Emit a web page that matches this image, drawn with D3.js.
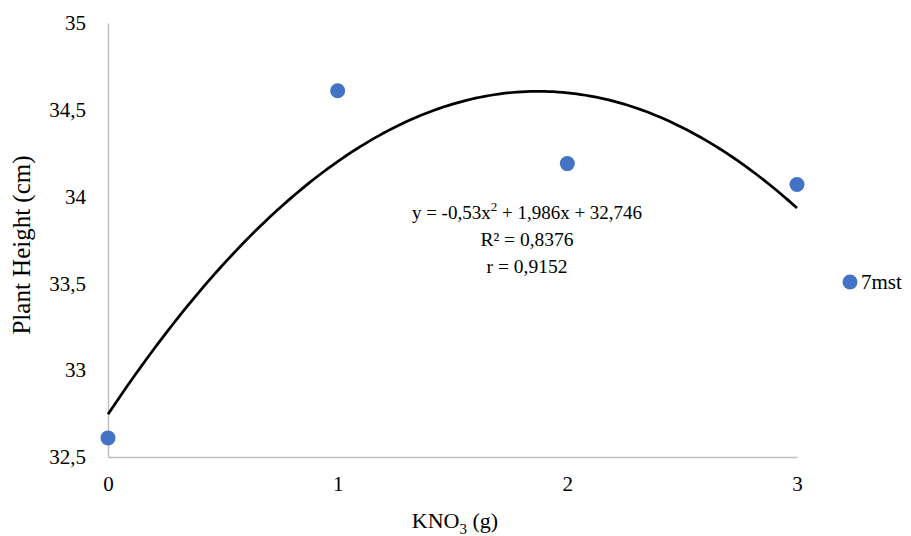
<!DOCTYPE html>
<html>
<head>
<meta charset="utf-8">
<script src="https://cdn.jsdelivr.net/npm/d3@7"></script>
<style>
  body { margin: 0; background: #fff; }
  svg text { font-family: "Liberation Serif", "Times New Roman", serif !important; fill: #000; }
</style>
</head>
<body>
<svg id="chart"></svg>
<script>
// Donnees
const kno3 = [0, 1, 2, 3];
const hauteur = [32.61, 34.61, 34.19, 34.07];
const serieNom = "7mst";

// Coefficients de la courbe de tendance (a x^2 + b x + c)
const coefs = [-0.53, 1.986, 32.746];
const equationLignes = ["R² = 0,8376", "r = 0,9152"];

const yTicks = [32.5, 33, 33.5, 34, 34.5, 35];
const xTicks = [0, 1, 2, 3];

const width = 911;
const height = 536;
const margin = {top: 23, right: 114, bottom: 79, left: 108};

const svg = d3.select("#chart")
  .attr("width", width)
  .attr("height", height);

const x = d3.scaleLinear()
  .domain([0, 3])
  .range([margin.left, width - margin.right]);

const y = d3.scaleLinear()
  .domain([32.5, 35])
  .range([height - margin.bottom, margin.top]);

const fmt = d => String(d).replace(".", ",");

// Axe Y
const yAxis = svg.append("g")
  .attr("transform", `translate(${margin.left},0)`)
  .call(d3.axisLeft(y).tickValues(yTicks).tickSize(0).tickPadding(22).tickFormat(fmt));
yAxis.attr("font-size", null).attr("font-family", null);
yAxis.select(".domain").attr("stroke", "#bfbfbf").attr("stroke-width", 1.5);
yAxis.selectAll("text").style("font-size", "21px");

// Axe X
const xAxis = svg.append("g")
  .attr("transform", `translate(0,${height - margin.bottom})`)
  .call(d3.axisBottom(x).tickValues(xTicks).tickSize(0).tickPadding(19).tickFormat(fmt));
xAxis.attr("font-size", null).attr("font-family", null);
xAxis.select(".domain").attr("stroke", "#bfbfbf").attr("stroke-width", 1.5);
xAxis.selectAll("text").style("font-size", "21px");

// Courbe de tendance polynomiale
const courbe = d3.range(0, 3.0001, 0.02).map(v => [v, coefs[0] * v * v + coefs[1] * v + coefs[2]]);
svg.append("path")
  .datum(courbe)
  .attr("fill", "none")
  .attr("stroke", "#000")
  .attr("stroke-width", 2.75)
  .attr("d", d3.line().x(d => x(d[0])).y(d => y(d[1])));

// Points
svg.selectAll(".point")
  .data(kno3.map((k, i) => ({k: k, h: hauteur[i]})))
  .enter()
  .append("circle")
  .attr("class", "point")
  .attr("cx", d => x(d.k))
  .attr("cy", d => y(d.h))
  .attr("r", 7.5)
  .attr("fill", "#4472c4");

// Equation
const eq = svg.append("text")
  .attr("x", 527)
  .attr("y", 219)
  .attr("text-anchor", "middle")
  .style("font-size", "19px");
eq.append("tspan").text("y = " + fmt(coefs[0]) + "x");
eq.append("tspan").attr("dy", -8).style("font-size", "13px").text("2");
eq.append("tspan").attr("dy", 8).text(" + " + fmt(coefs[1]) + "x + " + fmt(coefs[2]));

equationLignes.forEach((t, i) => {
  svg.append("text")
    .attr("x", 527)
    .attr("y", 246 + i * 27)
    .attr("text-anchor", "middle")
    .style("font-size", "19.5px")
    .text(t);
});

// Legende
svg.append("circle")
  .attr("cx", 850)
  .attr("cy", 282)
  .attr("r", 7.5)
  .attr("fill", "#4472c4");
svg.append("text")
  .attr("x", 861)
  .attr("y", 289)
  .style("font-size", "21px")
  .text(serieNom);

// Titres des axes
const xTitre = svg.append("text")
  .attr("x", 455)
  .attr("y", 528)
  .attr("text-anchor", "middle")
  .style("font-size", "22px");
xTitre.append("tspan").text("KNO");
xTitre.append("tspan").attr("dy", 6).style("font-size", "15px").text("3");
xTitre.append("tspan").attr("dy", -6).text(" (g)");

svg.append("text")
  .attr("transform", "translate(30,245) rotate(-90)")
  .attr("text-anchor", "middle")
  .style("font-size", "25px")
  .text("Plant Height (cm)");
</script>
</body>
</html>
